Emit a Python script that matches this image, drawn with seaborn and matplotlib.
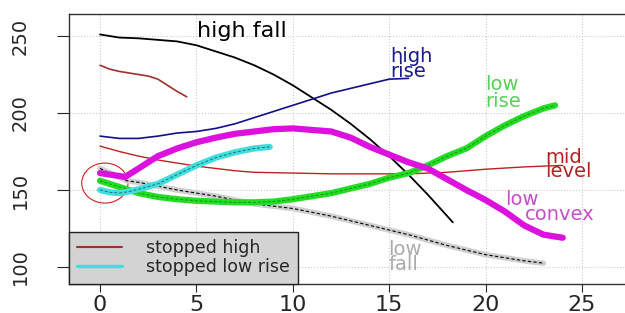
import matplotlib
matplotlib.use("Agg")
import matplotlib.pyplot as plt
import seaborn as sns
from matplotlib.lines import Line2D
from matplotlib.patches import Ellipse

sns.set_style("white")
plt.rcParams['font.family'] = ['DejaVu Sans']

# series
high_fall_x = [0, 1, 2, 3, 4, 5, 6, 7, 8, 9, 10, 11, 12, 13, 14, 15, 16, 17, 18.3]
high_fall_y = [251, 249, 248.5, 247.5, 246.5, 244, 240, 236, 231, 225, 218, 210, 202, 193, 183, 172, 160, 147, 129]

high_rise_x = [0, 1, 2, 3, 4, 5, 6, 7, 8, 9, 10, 11, 12, 13, 14, 15, 16]
high_rise_y = [185, 183.5, 183.5, 185, 187, 188, 190, 193, 197, 201, 205, 209, 213, 216, 219, 222, 222.5]

stopped_high_x = [0, 0.5, 1, 2, 2.5, 3, 3.5, 4, 4.5]
stopped_high_y = [231, 228.5, 227, 225, 224, 222, 218, 214, 210.5]

mid_level_x = [0, 1, 2, 3, 4, 5, 6, 7, 8, 10, 12, 14, 16, 18, 20, 22, 24]
mid_level_y = [178.5, 175, 172, 169.5, 167.5, 165.5, 164, 162.5, 161.5, 161, 160.5, 160.5, 160.5, 161.5, 163.5, 165, 166]

low_convex_x = [0, 1.3, 2, 3, 4, 5, 6, 7, 8, 9, 10, 11, 12, 13, 14, 15, 16, 17, 18, 19, 20, 21, 22, 23, 24]
low_convex_y = [161, 158.5, 164, 172, 177, 181, 184, 186.5, 188, 189.5, 190, 189, 188, 184, 178, 173, 168, 164, 157, 150, 143.5, 136, 127, 121, 119]

low_rise_x = [0, 1, 2, 3, 4, 5, 6, 7, 8, 9, 10, 11, 12, 13, 14, 15, 16, 17, 18, 19, 20, 21, 22, 23, 23.6]
low_rise_y = [156, 152, 148, 145.5, 144, 143, 142.5, 142, 142, 142.5, 144, 146, 148, 151, 154, 158, 161, 166, 172, 177, 185, 192, 198, 203, 205]

stopped_low_rise_x = [0, 0.5, 1, 1.5, 2, 3, 4, 5, 6, 7, 8, 8.8]
stopped_low_rise_y = [150, 148.5, 148, 149, 150.5, 154, 160, 166, 171, 174.5, 177, 178]

low_fall_x = [0, 1.4, 2, 4, 6, 8, 10, 12, 14, 16, 18, 20, 22, 23]
low_fall_y = [164, 156, 155, 150, 146, 141, 138, 133, 127, 121, 114, 108, 104, 102.5]

labels = [
    ("high fall", 5.03, 249.4, "black", 16),
    ("high", 15.04, 233.1, "#1a1a8c", 14),
    ("rise", 15.04, 223.4, "#1a1a8c", 14),
    ("low", 19.97, 214.9, "#55d155", 14),
    ("rise", 19.97, 203.9, "#55d155", 14),
    ("mid", 23.08, 167.5, "#b22222", 14),
    ("level", 23.08, 158.4, "#b22222", 14),
    ("low", 21.0, 140.3, "#c84ec8", 14),
    ("convex", 22.04, 130.5, "#c84ec8", 14),
    ("low", 14.94, 107.8, "#aaaaaa", 14),
    ("fall", 14.94, 98.05, "#aaaaaa", 14),
]

fig = plt.figure(figsize=(6.25, 3.13), dpi=100)
ax = fig.add_axes([69 / 625, 1 - 284 / 313, 1 - 69 / 625, 270 / 313])

for v in [0, 5, 10, 15, 20, 25]:
    ax.axvline(v, color="#cccccc", ls=":", lw=0.8, zorder=0)
for v in [100, 150, 200, 250]:
    ax.axhline(v, color="#cccccc", ls=":", lw=0.8, zorder=0)


def draw(x, y, **kw):
    sns.lineplot(x=x, y=y, ax=ax, sort=False, estimator=None, legend=False, **kw)


draw(low_fall_x, low_fall_y, color="#cfcfcf", lw=4, solid_capstyle="round")
draw(low_fall_x, low_fall_y, color="black", lw=0.8, dashes=(3, 2))
draw(high_fall_x, high_fall_y, color="black", lw=1.3)
draw(high_rise_x, high_rise_y, color="#10108a", lw=1.2)
draw(stopped_high_x, stopped_high_y, color="#a0302a", lw=1.2)
draw(mid_level_x, mid_level_y, color="#c02020", lw=1.0)
draw(low_rise_x, low_rise_y, color="#22dd22", lw=4.5, solid_capstyle="round")
draw(low_rise_x, low_rise_y, color="#189018", lw=0.7, dashes=(3, 2))
draw(stopped_low_rise_x, stopped_low_rise_y, color="#40dede", lw=4.5, solid_capstyle="round")
draw(stopped_low_rise_x, stopped_low_rise_y, color="#207070", lw=0.7, dashes=(3, 2))
draw(low_convex_x, low_convex_y, color="#dd11dd", lw=4.5, solid_capstyle="round")

ax.add_patch(Ellipse((0.25, 154.5), 2.4, 26, fill=False, edgecolor="#cc2222", lw=0.8))

for txt, x, y, c, fs in labels:
    ax.text(x, y, txt, color=c, fontsize=fs, ha="left", va="baseline")

ax.set_xlim(-1.61, 27.23)
ax.set_ylim(88.96, 264.3)
ax.set_xticks([0, 5, 10, 15, 20, 25])
ax.set_yticks([100, 150, 200, 250])
ax.tick_params(axis="x", length=6, width=0.8, pad=2, labelsize=16, direction="out", bottom=True)
ax.tick_params(axis="y", length=9, width=0.8, pad=19, labelsize=14, direction="out", left=True, labelrotation=90)
for lab in ax.get_yticklabels():
    lab.set_va("center")
for s in ["left", "bottom", "top"]:
    ax.spines[s].set_color("#333333")
    ax.spines[s].set_linewidth(1.0)
ax.spines["right"].set_visible(False)

handles = [Line2D([], [], color="#a0302a", lw=1.5), Line2D([], [], color="#40dede", lw=2.5)]
leg = ax.legend(handles, ["stopped high", "stopped low rise"], loc="lower left",
                bbox_to_anchor=(0, 0), borderaxespad=0, fancybox=False, framealpha=1,
                facecolor="#d3d3d3", edgecolor="#222222", fontsize=12.5,
                handlelength=2.6, labelspacing=0.05, borderpad=0.45, handletextpad=1.4)
leg.get_frame().set_linewidth(1.0)

fig.savefig("out.png", dpi=100)
